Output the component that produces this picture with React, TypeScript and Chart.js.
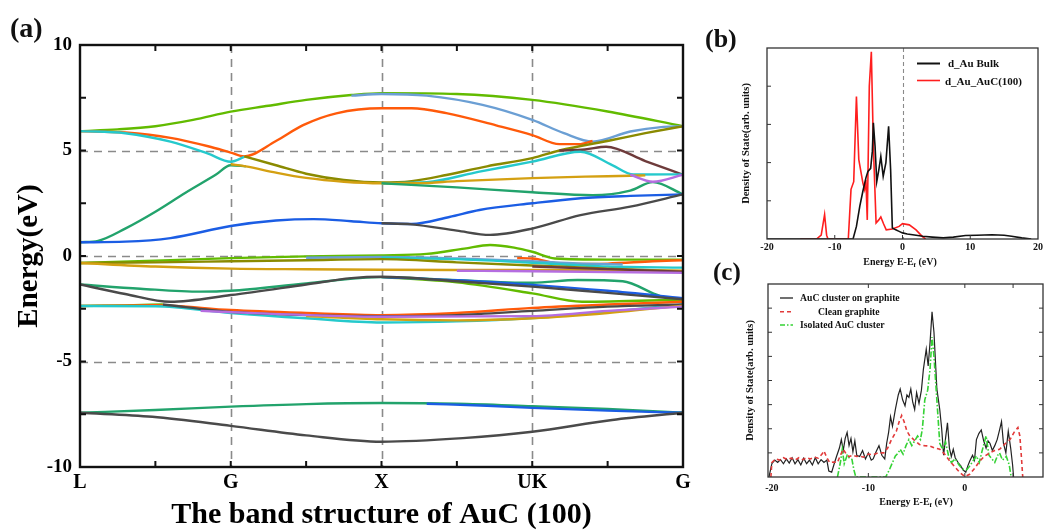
import React, { useEffect, useRef } from "react";
import { Chart, registerables } from "chart.js";
Chart.register(...registerables);

const SERIF = '"Liberation Serif", "Times New Roman", serif';

// ---------- Panel (a): band structure ----------
const bandPathLabels = ["L", "G", "X", "UK", "G"];
const bandPathLines = [1, 2, 3];
const bandPathTicks = [0.5, 1, 1.5, 2, 2.5, 3, 3.5];
const bandEnergyLines = [-5, 0, 5];
const bandEnergyTicks = [-7.5, -5, -2.5, 0, 2.5, 5, 7.5];

const bandGreenTop = [[0, 5.92], [0.25, 6.0], [0.5, 6.15], [0.75, 6.45], [1, 6.84], [1.25, 7.12], [1.5, 7.4], [1.8, 7.63], [2, 7.72], [2.5, 7.68], [3, 7.4], [3.5, 6.85], [4, 6.15]];
const bandLightBlueTop = [[1.8, 7.6], [2, 7.68], [2.3, 7.6], [2.67, 7.16], [3, 6.45], [3.21, 5.82], [3.4, 5.42], [3.65, 5.9], [3.87, 6.12], [4, 6.15]];
const bandOrangeTop = [[0, 5.92], [0.3, 5.85], [0.6, 5.6], [0.85, 5.2], [1.0, 4.9], [1.09, 4.72], [1.3, 5.45], [1.48, 6.2], [1.7, 6.76], [2.0, 7.0], [2.2, 7.0], [2.43, 6.77], [2.76, 6.19], [3.0, 5.73], [3.18, 5.3], [3.31, 5.3], [3.4, 5.45]];
const bandCyanTop = [[0, 5.92], [0.3, 5.82], [0.6, 5.42], [0.85, 4.85], [1.0, 4.47], [1.09, 4.7]];
const bandTealRise = [[0, 0.65], [0.12, 0.72], [0.3, 1.3], [0.5, 2.1], [0.7, 3.0], [0.9, 3.85], [1.0, 4.3], [1.1, 4.25]];
const bandGoldMid = [[1.0, 4.35], [1.1, 4.25], [1.3, 3.95], [1.5, 3.7], [1.75, 3.52], [2.0, 3.45], [2.25, 3.45], [2.5, 3.55], [3.0, 3.69], [3.35, 3.76], [3.65, 3.8], [3.75, 3.82]];
const bandOliveMid = [[1.09, 4.72], [1.3, 4.3], [1.5, 3.9], [1.75, 3.6], [2.0, 3.48], [2.2, 3.55], [2.43, 3.84], [2.7, 4.25], [3.0, 4.64], [3.18, 5.0], [3.53, 5.5], [3.75, 5.82], [4, 6.15]];
const bandCyanMid = [[2.0, 3.45], [2.3, 3.5], [2.65, 4.0], [3.0, 4.47], [3.32, 4.94], [3.53, 4.31], [3.67, 3.86], [4, 3.87]];
const bandTealMid = [[2.0, 3.45], [2.5, 3.25], [3.0, 3.02], [3.4, 2.88], [3.65, 3.1], [3.8, 3.5], [4, 2.92]];
const bandBrownMid = [[3.18, 5.0], [3.35, 5.05], [3.49, 5.18], [3.75, 4.5], [4, 3.85]];
const bandPurpleMid = [[3.65, 3.85], [3.8, 3.52], [4, 3.85]];
const bandBlueMid = [[0, 0.65], [0.3, 0.68], [0.6, 0.85], [1.0, 1.42], [1.3, 1.68], [1.55, 1.75], [1.8, 1.65], [2.0, 1.55], [2.2, 1.52], [2.45, 1.85], [2.65, 2.18], [3.0, 2.5], [3.32, 2.74], [3.65, 2.85], [4, 2.92]];
const bandGrayMid = [[2.0, 1.55], [2.2, 1.5], [2.5, 1.2], [2.72, 1.0], [3.0, 1.3], [3.32, 1.94], [3.65, 2.34], [4, 2.92]];

const bandGreenZero = [[0, -0.33], [0.5, -0.22], [1.0, -0.1], [1.5, -0.02], [2.0, 0.03], [2.3, 0.1], [2.55, 0.35], [2.72, 0.52], [2.88, 0.4], [3.0, 0.2], [3.15, -0.12], [3.5, -0.17], [4, -0.17]];
const bandLightBlueZero = [[1.5, -0.08], [2.0, -0.05], [2.5, -0.12], [3.0, -0.25], [3.3, -0.35], [3.6, -0.4]];
const bandOrangeZero = [[2.9, -0.1], [3.0, -0.12], [3.2, -0.38], [3.5, -0.36], [3.8, -0.25], [4, -0.2]];
const bandOliveZero = [[0, -0.33], [0.5, -0.3], [1, -0.25], [1.5, -0.2], [2, -0.15], [2.5, -0.3], [3, -0.45], [3.5, -0.6], [4, -0.72]];
const bandGoldZero = [[0, -0.33], [0.5, -0.5], [1, -0.6], [1.5, -0.63], [2, -0.65], [2.5, -0.66], [3, -0.66], [3.5, -0.68], [4, -0.7]];
const bandPurpleZero = [[2.5, -0.7], [3, -0.72], [3.5, -0.76], [4, -0.8]];
const bandBrownZero = [[3.0, -0.5], [3.5, -0.62], [4, -0.74]];
const bandCyanZero = [[2, -0.08], [2.5, -0.15], [3, -0.32], [3.5, -0.5], [4, -0.55]];

const bandTealLow1 = [[0, -1.35], [0.4, -1.55], [0.8, -1.69], [1.0, -1.65], [1.5, -1.3], [2.0, -1.0], [2.43, -1.12], [3.0, -1.27], [3.3, -1.14], [3.6, -1.2], [3.85, -1.9], [4, -2.05]];
const bandGrayLow1 = [[0, -1.35], [0.3, -1.8], [0.6, -2.17], [1.0, -1.85], [1.5, -1.35], [1.8, -1.05], [2.0, -0.98], [2.5, -1.2], [3.0, -1.45], [3.5, -1.75], [4, -2.05]];
const bandGreenLow1 = [[2.0, -1.0], [2.5, -1.25], [3.0, -1.77], [3.33, -2.17], [4, -2.07]];
const bandBlueLow1 = [[2.0, -1.0], [2.5, -1.15], [3.0, -1.37], [3.5, -1.65], [4, -2.0]];
const bandGreenLow2 = [[0, -2.37], [0.3, -2.34], [0.55, -2.3]];
const bandOrangeLow = [[0, -2.37], [0.5, -2.33], [1.0, -2.56], [1.5, -2.7], [2.0, -2.8], [2.5, -2.7], [3.0, -2.46], [3.5, -2.3], [4, -2.17]];
const bandCyanLow = [[0, -2.37], [0.5, -2.38], [1.0, -2.7], [1.5, -2.95], [2.0, -3.15], [2.5, -3.1], [3.0, -2.94], [3.5, -2.65], [4, -2.3]];
const bandGrayLow2 = [[0.55, -2.3], [1.0, -2.65], [1.5, -2.8], [2.0, -2.85], [2.5, -2.8], [3.0, -2.6], [3.5, -2.4], [4, -2.3]];
const bandGoldLow = [[1.5, -2.85], [2.0, -3.0], [2.5, -3.05], [3.0, -2.95], [3.5, -2.7], [4, -2.35]];
const bandPurpleLow = [[0.8, -2.6], [1.2, -2.72], [2.0, -2.88], [3.0, -2.85], [3.5, -2.6], [4, -2.4]];

const bandTealBottom = [[0, -7.43], [0.5, -7.3], [1, -7.14], [1.5, -7.02], [2, -6.97], [2.5, -7.0], [3, -7.12], [3.5, -7.25], [4, -7.43]];
const bandBlueBottom = [[2.3, -7.0], [2.7, -7.1], [3, -7.2], [3.5, -7.33], [4, -7.43]];
const bandGrayBottom = [[0, -7.43], [0.48, -7.62], [1, -8.05], [1.5, -8.5], [2, -8.8], [2.54, -8.63], [3, -8.33], [3.53, -7.77], [4, -7.43]];

const C = {
  green: "#62bb00",
  lightBlue: "#6b9fd4",
  orange: "#ff5a0a",
  cyan: "#25c9cc",
  teal: "#22a36c",
  blue: "#1b5de4",
  olive: "#8a8a00",
  gold: "#d4a012",
  gray: "#4a4a4a",
  brown: "#6e3b3b",
  purple: "#b56de0",
};

const bandSeries: [number[][], string][] = [
  [bandGrayBottom, C.gray],
  [bandBlueBottom, C.blue],
  [bandTealBottom, C.teal],
  [bandPurpleLow, C.purple],
  [bandGoldLow, C.gold],
  [bandGrayLow2, C.gray],
  [bandCyanLow, C.cyan],
  [bandOrangeLow, C.orange],
  [bandGreenLow2, C.green],
  [bandGrayLow1, C.gray],
  [bandBlueLow1, C.blue],
  [bandGreenLow1, C.green],
  [bandTealLow1, C.teal],
  [bandPurpleZero, C.purple],
  [bandBrownZero, C.brown],
  [bandGoldZero, C.gold],
  [bandOliveZero, C.olive],
  [bandCyanZero, C.cyan],
  [bandLightBlueZero, C.lightBlue],
  [bandOrangeZero, C.orange],
  [bandGreenZero, C.green],
  [bandGrayMid, C.gray],
  [bandBlueMid, C.blue],
  [bandPurpleMid, C.purple],
  [bandTealMid, C.teal],
  [bandGoldMid, C.gold],
  [bandCyanMid, C.cyan],
  [bandBrownMid, C.brown],
  [bandOliveMid, C.olive],
  [bandTealRise, C.teal],
  [bandCyanTop, C.cyan],
  [bandOrangeTop, C.orange],
  [bandLightBlueTop, C.lightBlue],
  [bandGreenTop, C.green],
];

// ---------- Panel (b): d-band DOS ----------
const dosAuBulk = [[-20, 0], [-7.3, 0], [-6.8, 0.33], [-6.3, 0.86], [-5.85, 1.25], [-5.4, 1.6], [-5.1, 1.77], [-4.7, 1.85], [-4.45, 2.3], [-4.3, 3.04], [-4.05, 2.43], [-3.8, 1.5], [-3.5, 1.8], [-3.2, 2.16], [-2.85, 1.64], [-2.45, 2.0], [-2.05, 2.95], [-1.75, 1.8], [-1.5, 0.29], [-1.0, 0.24], [-0.5, 0.2], [0, 0.16], [0.7, 0.13], [1.5, 0.11], [3, 0.07], [4.4, 0.05], [6, 0.03], [7.5, 0.05], [9.3, 0.09], [11, 0.1], [13.2, 0.11], [15, 0.1], [16.1, 0.07], [17.6, 0.03], [19, 0]];
const dosAuAuC100 = [[-15.1, 0], [-12.7, 0], [-12.0, 0.1], [-11.5, 0.64], [-11.2, 0.1], [-11.0, 0], [-8.0, 0], [-7.6, 1.3], [-7.2, 1.5], [-6.8, 3.73], [-6.45, 2.08], [-5.85, 1.47], [-5.6, 1.3], [-5.4, 1.55], [-5.2, 0.5], [-4.9, 4.0], [-4.6, 4.9], [-4.3, 2.43], [-3.9, 0.42], [-3.5, 0.5], [-3.2, 0.58], [-2.8, 0.4], [-2.4, 0.24], [-1.5, 0.26], [-0.5, 0.33], [0, 0.4], [1.0, 0.37], [2.0, 0.24], [2.9, 0.07], [3.4, 0]];
const dosBEnergyTicks = [-10, 0, 10];
const dosBDensityTicks = [1, 2, 3, 4];

// ---------- Panel (c): cluster DOS ----------
const dosClusterOnGraphite = [[-20.3, 0], [-20.0, 0.55], [-19.7, 0.7], [-19.4, 0.6], [-19.1, 0.72], [-18.8, 0.55], [-18.5, 0.75], [-18.2, 0.58], [-17.9, 0.8], [-17.6, 0.55], [-17.3, 0.72], [-17.0, 0.5], [-16.7, 0.78], [-16.4, 0.55], [-16.1, 0.7], [-15.8, 0.5], [-15.5, 0.8], [-15.2, 0.55], [-14.9, 0.72], [-14.6, 0.6], [-14.3, 0.7], [-14.1, 0.25], [-13.8, 0.2], [-13.5, 0.6], [-13.3, 0.85], [-13.0, 1.2], [-12.8, 1.55], [-12.6, 1.1], [-12.4, 1.6], [-12.2, 1.85], [-12.0, 1.3], [-11.8, 1.6], [-11.6, 1.05], [-11.4, 1.5], [-11.2, 0.9], [-10.9, 0.85], [-10.6, 1.1], [-10.3, 0.75], [-10.0, 1.0], [-9.7, 0.7], [-9.5, 0.75], [-9.2, 1.05], [-8.9, 1.3], [-8.6, 0.9], [-8.3, 0.75], [-8.1, 1.4], [-7.9, 1.85], [-7.7, 2.5], [-7.5, 2.1], [-7.2, 2.8], [-6.9, 3.4], [-6.7, 3.65], [-6.45, 3.2], [-6.2, 2.95], [-6.0, 3.4], [-5.8, 3.3], [-5.6, 3.65], [-5.4, 3.1], [-5.2, 2.8], [-5.0, 3.5], [-4.75, 3.05], [-4.5, 3.6], [-4.3, 4.45], [-4.0, 5.3], [-3.8, 4.6], [-3.6, 5.6], [-3.4, 6.85], [-3.2, 6.0], [-2.9, 3.65], [-2.6, 2.8], [-2.4, 2.0], [-2.2, 0.9], [-2.0, 1.6], [-1.8, 2.25], [-1.6, 1.2], [-1.4, 0.85], [-1.2, 1.15], [-1.0, 0.8], [-0.7, 0.6], [-0.4, 0.45], [-0.2, 0.3], [0.1, 0.2], [0.3, 0.45], [0.5, 0.65], [0.8, 0.9], [1.0, 0.7], [1.2, 1.55], [1.45, 1.8], [1.7, 1.95], [1.95, 1.5], [2.2, 1.2], [2.4, 1.5], [2.6, 1.4], [2.85, 1.1], [3.1, 1.3], [3.35, 1.55], [3.6, 1.95], [3.8, 2.3], [4.0, 1.4], [4.25, 1.0], [4.5, 1.9], [4.75, 1.2], [4.95, 0.5], [5.05, 0]];
const dosCleanGraphite = [[-20.1, 0], [-20.0, 0.6], [-19.6, 0.75], [-19.2, 0.7], [-18.8, 0.8], [-18.4, 0.72], [-18.0, 0.78], [-17.6, 0.7], [-17.2, 0.8], [-16.8, 0.72], [-16.4, 0.8], [-16.0, 0.75], [-15.6, 0.82], [-15.2, 0.78], [-14.8, 0.95], [-14.6, 1.08], [-14.3, 0.8], [-14.0, 0.6], [-13.6, 0.62], [-13.2, 0.6], [-12.9, 0.9], [-12.6, 1.15], [-12.3, 0.95], [-12.0, 0.85], [-11.6, 0.9], [-11.2, 0.85], [-10.9, 0.87], [-10.5, 0.82], [-10.0, 0.95], [-9.5, 0.92], [-9.0, 1.0], [-8.4, 1.0], [-8.0, 1.2], [-7.6, 1.55], [-7.1, 1.9], [-6.8, 2.3], [-6.55, 2.55], [-6.3, 2.3], [-6.0, 1.9], [-5.7, 1.7], [-5.3, 1.55], [-5.0, 1.45], [-4.7, 1.35], [-4.2, 1.3], [-3.6, 1.28], [-3.1, 1.2], [-2.6, 1.15], [-2.1, 0.95], [-1.55, 0.66], [-1.0, 0.4], [-0.5, 0.18], [0, 0.02], [0.5, 0.11], [1.0, 0.35], [1.55, 0.66], [2.0, 0.85], [2.6, 1.0], [3.1, 1.1], [3.6, 1.15], [4.1, 1.35], [4.7, 1.56], [5.1, 1.85], [5.5, 2.05], [5.7, 1.7], [5.85, 0.9], [6.0, 0]];
const dosIsolatedCluster = [[-13.2, 0], [-12.9, 0.6], [-12.7, 1.15], [-12.5, 0.55], [-12.2, 0.9], [-11.9, 0.75], [-11.7, 0.73], [-11.5, 0.3], [-11.3, 0], [-8.2, 0], [-7.8, 0.32], [-7.5, 0.6], [-7.2, 0.87], [-6.9, 1.0], [-6.7, 1.15], [-6.4, 0.95], [-6.1, 1.3], [-5.8, 1.55], [-5.5, 1.3], [-5.2, 1.5], [-4.9, 1.7], [-4.6, 1.55], [-4.4, 2.0], [-4.15, 3.2], [-3.85, 3.6], [-3.6, 4.5], [-3.4, 5.8], [-3.2, 5.0], [-2.9, 3.2], [-2.6, 1.4], [-2.3, 1.15], [-2.0, 1.45], [-1.7, 0.9], [-1.4, 0.6], [-1.0, 0.75], [-0.6, 0.5], [-0.2, 0.32], [0.2, 0.3], [0.5, 0.45], [0.9, 0.7], [1.2, 0.87], [1.5, 0.6], [1.8, 1.1], [2.2, 1.7], [2.5, 0.9], [2.8, 0.75], [3.1, 0.6], [3.4, 0.9], [3.6, 1.0], [3.9, 0.7], [4.3, 0.85], [4.6, 0.5], [4.8, 0]];
const dosCEnergyLabels = [-20, -10, 0];
const dosCEnergyTicks = [-10, 0, 5];
const dosCDensityTicks = [1, 2, 3, 4, 5, 6, 7];

// ---------- helpers ----------
const toXY = (pts: number[][]) => pts.map(([x, y]) => ({ x, y }));

const framePlugin = {
  id: "frame",
  beforeDatasetsDraw(chart: any, _a: any, o: any) {
    const { ctx, chartArea: a, scales } = chart;
    ctx.save();
    ctx.beginPath();
    ctx.rect(a.left, a.top, a.right - a.left, a.bottom - a.top);
    ctx.clip();
    ctx.strokeStyle = o.dashColor;
    ctx.lineWidth = o.dashWidth;
    ctx.setLineDash(o.dash);
    (o.xLines || []).forEach((v: number) => {
      const p = Math.round(scales.x.getPixelForValue(v)) + 0.5;
      ctx.beginPath(); ctx.moveTo(p, a.top); ctx.lineTo(p, a.bottom); ctx.stroke();
    });
    (o.yLines || []).forEach((v: number) => {
      const p = Math.round(scales.y.getPixelForValue(v)) + 0.5;
      ctx.beginPath(); ctx.moveTo(a.left, p); ctx.lineTo(a.right, p); ctx.stroke();
    });
    ctx.restore();
  },
  afterDatasetsDraw(chart: any, _a: any, o: any) {
    const { ctx, chartArea: a, scales } = chart;
    ctx.save();
    ctx.setLineDash([]);
    ctx.strokeStyle = o.frameColor;
    ctx.lineWidth = o.tickWidth;
    const L = o.tickLen;
    (o.xTicks || []).forEach((v: number) => {
      const p = scales.x.getPixelForValue(v);
      ctx.beginPath();
      if (o.tickSides.includes("b")) { ctx.moveTo(p, a.bottom); ctx.lineTo(p, a.bottom - L); }
      if (o.tickSides.includes("t")) { ctx.moveTo(p, a.top); ctx.lineTo(p, a.top + L); }
      ctx.stroke();
    });
    (o.yTicks || []).forEach((v: number) => {
      const p = scales.y.getPixelForValue(v);
      ctx.beginPath();
      if (o.tickSides.includes("l")) { ctx.moveTo(a.left, p); ctx.lineTo(a.left + L, p); }
      if (o.tickSides.includes("r")) { ctx.moveTo(a.right, p); ctx.lineTo(a.right - L, p); }
      ctx.stroke();
    });
    ctx.lineWidth = o.frameWidth;
    ctx.strokeRect(a.left, a.top, a.right - a.left, a.bottom - a.top);
    ctx.restore();
  },
};

const baseOpts = {
  animation: false,
  responsive: false,
  maintainAspectRatio: false,
  devicePixelRatio: 1,
  events: [],
};

const noGrid = { display: false, drawTicks: false, tickLength: 0 };

function bandConfig(): any {
  return {
    type: "line",
    data: {
      datasets: bandSeries.map(([pts, color]) => ({
        data: toXY(pts),
        borderColor: color,
        borderWidth: 2.4,
        pointRadius: 0,
        fill: false,
        cubicInterpolationMode: "monotone",
      })),
    },
    plugins: [framePlugin],
    options: {
      ...baseOpts,
      layout: { padding: { left: 0, right: 17, top: 45, bottom: 0 } },
      plugins: {
        legend: { display: false },
        tooltip: { enabled: false },
        frame: {
          xLines: bandPathLines, yLines: bandEnergyLines, dash: [8, 6], dashColor: "#8a8a8a", dashWidth: 1.6,
          xTicks: bandPathTicks, yTicks: bandEnergyTicks, tickSides: "tblr", tickLen: 6, tickWidth: 2,
          frameColor: "#111", frameWidth: 2.4,
        },
      },
      scales: {
        x: {
          type: "linear", min: 0, max: 4,
          afterFit: (s: any) => { s.height = 63; },
          grid: noGrid, border: { display: false },
          ticks: {
            stepSize: 1, autoSkip: false, maxRotation: 0, padding: 4, color: "#000",
            font: { family: SERIF, size: 20, weight: "bold" },
            callback: (v: number) => (Number.isInteger(v) ? bandPathLabels[v] : ""),
          },
          title: { display: true, text: "The band structure of AuC (100)", color: "#000", font: { family: SERIF, size: 30, weight: "bold" }, padding: { top: 0, bottom: -3 } },
        },
        y: {
          type: "linear", min: -10, max: 10,
          afterFit: (s: any) => { s.width = 80; },
          grid: noGrid, border: { display: false },
          ticks: { stepSize: 5, padding: 8, color: "#000", font: { family: SERIF, size: 19, weight: "bold" } },
          title: { display: true, text: "Energy(eV)", color: "#000", font: { family: SERIF, size: 29, weight: "bold" }, padding: { top: 12, bottom: 0 } },
        },
      },
    },
  };
}

function dosBConfig(): any {
  return {
    type: "line",
    data: {
      datasets: [
        { data: toXY(dosAuBulk), borderColor: "#111", borderWidth: 1.6, pointRadius: 0, tension: 0 },
        { data: toXY(dosAuAuC100), borderColor: "#ff1e1e", borderWidth: 1.6, pointRadius: 0, tension: 0 },
      ],
    },
    plugins: [framePlugin],
    options: {
      ...baseOpts,
      layout: { padding: { left: 0, right: 6, top: 48, bottom: 0 } },
      plugins: {
        legend: { display: false },
        tooltip: { enabled: false },
        frame: {
          xLines: [0], yLines: [], dash: [4, 3], dashColor: "#8a8a8a", dashWidth: 1.1,
          xTicks: dosBEnergyTicks, yTicks: dosBDensityTicks, tickSides: "bl", tickLen: 4, tickWidth: 1,
          frameColor: "#333", frameWidth: 1.3,
        },
      },
      scales: {
        x: {
          type: "linear", min: -20, max: 20,
          afterFit: (s: any) => { s.height = 36; },
          grid: noGrid, border: { display: false },
          ticks: { stepSize: 10, autoSkip: false, maxRotation: 0, padding: 2, color: "#111", font: { family: SERIF, size: 10, weight: "bold" } },
        },
        y: {
          type: "linear", min: 0, max: 5,
          afterFit: (s: any) => { s.width = 67; },
          grid: noGrid, border: { display: false },
          ticks: { display: false },
          title: { display: true, text: "Density of State(arb. units)", color: "#111", font: { family: SERIF, size: 10.5, weight: "bold" }, padding: { top: 40, bottom: 0 } },
        },
      },
    },
  };
}

function dosCConfig(): any {
  return {
    type: "line",
    data: {
      datasets: [
        { data: toXY(dosCleanGraphite), borderColor: "#e23a3a", borderWidth: 1.6, borderDash: [4, 3], pointRadius: 0, tension: 0 },
        { data: toXY(dosIsolatedCluster), borderColor: "#35d235", borderWidth: 1.6, borderDash: [6, 2, 1.5, 2], pointRadius: 0, tension: 0 },
        { data: toXY(dosClusterOnGraphite), borderColor: "#222", borderWidth: 1.2, pointRadius: 0, tension: 0 },
      ],
    },
    plugins: [framePlugin],
    options: {
      ...baseOpts,
      layout: { padding: { left: 0, right: 2, top: 9, bottom: 0 } },
      plugins: {
        legend: { display: false },
        tooltip: { enabled: false },
        frame: {
          xLines: [], yLines: [], dash: [4, 3], dashColor: "#8a8a8a", dashWidth: 1,
          xTicks: dosCEnergyTicks, yTicks: dosCDensityTicks, tickSides: "tblr", tickLen: 4, tickWidth: 1,
          frameColor: "#333", frameWidth: 1.3,
        },
      },
      scales: {
        x: {
          type: "linear", min: -20.4, max: 8.1,
          afterFit: (s: any) => { s.height = 53; },
          grid: noGrid, border: { display: false },
          ticks: {
            stepSize: 10, includeBounds: false, autoSkip: false, maxRotation: 0, padding: 5, color: "#111",
            font: { family: SERIF, size: 10, weight: "bold" },
            callback: (v: number) => (dosCEnergyLabels.includes(v) ? String(v) : ""),
          },
        },
        y: {
          type: "linear", min: 0, max: 8,
          afterFit: (s: any) => { s.width = 68; },
          grid: noGrid, border: { display: false },
          ticks: { display: false },
          title: { display: true, text: "Density of State(arb. units)", color: "#111", font: { family: SERIF, size: 10.5, weight: "bold" }, padding: { top: 44, bottom: 0 } },
        },
      },
    },
  };
}

function ChartBox({ left, top, width, height, make }: any) {
  const ref = useRef<HTMLCanvasElement>(null);
  useEffect(() => {
    const chart = new Chart(ref.current as HTMLCanvasElement, make());
    return () => chart.destroy();
  }, []);
  return <canvas ref={ref} width={width} height={height} style={{ position: "absolute", left, top, width, height }} />;
}

function Txt({ left, top, size, weight = "bold", center = false, children }: any) {
  return (
    <div
      style={{
        position: "absolute", left, top, fontFamily: SERIF, fontSize: size, fontWeight: weight,
        lineHeight: 1, whiteSpace: "nowrap", color: "#111",
        transform: center ? "translateX(-50%)" : undefined,
      }}
    >
      {children}
    </div>
  );
}

const subStyle = { fontSize: "0.7em", verticalAlign: "-0.3em", lineHeight: 0 } as any;

export default function App() {
  return (
    <div style={{ position: "absolute", left: 0, top: 0, width: 1045, height: 530, overflow: "hidden", background: "#fff" }}>
      <ChartBox left={0} top={0} width={700} height={530} make={bandConfig} />
      <ChartBox left={700} top={0} width={345} height={275} make={dosBConfig} />
      <ChartBox left={700} top={275} width={345} height={255} make={dosCConfig} />

      <Txt left={10} top={14} size={28}>(a)</Txt>
      <Txt left={705} top={26} size={26}>(b)</Txt>
      <Txt left={713} top={259} size={25}>(c)</Txt>

      <Txt left={900} top={257} size={10} center>
        Energy E-E<span style={subStyle}>f</span> (eV)
      </Txt>
      <Txt left={916} top={497} size={10} center>
        Energy E-E<span style={subStyle}>f</span> (eV)
      </Txt>

      <svg width={1045} height={530} style={{ position: "absolute", left: 0, top: 0, pointerEvents: "none" }}>
        <line x1={917} y1={63.5} x2={940} y2={63.5} stroke="#111" strokeWidth={2} />
        <line x1={917} y1={80.5} x2={940} y2={80.5} stroke="#ff1e1e" strokeWidth={1.6} />
        <line x1={780} y1={298} x2={793} y2={298} stroke="#222" strokeWidth={1.3} />
        <line x1={780} y1={311.7} x2={793} y2={311.7} stroke="#e23a3a" strokeWidth={1.5} strokeDasharray="4 3" />
        <line x1={780} y1={325} x2={793} y2={325} stroke="#35d235" strokeWidth={1.5} strokeDasharray="5 2 1.5 2" />
      </svg>

      <Txt left={948} top={57.5} size={11}>d_Au Bulk</Txt>
      <Txt left={945} top={76} size={11}>d_Au_AuC(100)</Txt>

      <Txt left={800} top={293} size={9.7}>AuC cluster on graphite</Txt>
      <Txt left={818} top={306.7} size={9.7}>Clean graphite</Txt>
      <Txt left={800} top={320} size={9.7}>Isolated AuC cluster</Txt>
    </div>
  );
}
